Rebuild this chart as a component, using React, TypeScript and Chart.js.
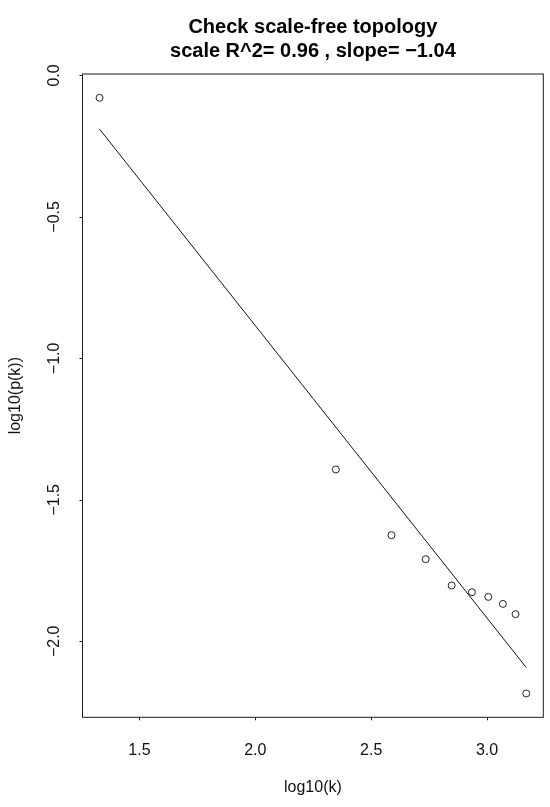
import React, { useEffect, useRef } from "react";
import { Chart, registerables } from "chart.js";

Chart.register(...registerables);

// Data
const logK = [1.3277, 2.3475, 2.5875, 2.7352, 2.8473, 2.9347, 3.0054, 3.0683, 3.123, 3.1691];
const logPk = [-0.0792, -1.3927, -1.625, -1.7098, -1.8028, -1.8265, -1.8431, -1.8678, -1.9042, -2.1845];
// fitted regression line endpoints
const fitX = [1.3277, 3.1691];
const fitY = [-0.1898, -2.0926];

const xTickValues = [1.5, 2.0, 2.5, 3.0];
const xTickLabels = ["1.5", "2.0", "2.5", "3.0"];
const yTickValues = [0, -0.5, -1.0, -1.5, -2.0];
const yTickLabels = ["0.0", "\u22120.5", "\u22121.0", "\u22121.5", "\u22122.0"];

const titleLines = ["Check scale-free topology", "scale R^2= 0.96 , slope= \u22121.04"];
const xTitle = "log10(k)";
const yTitle = "log10(p(k))";

const FONT = '"Liberation Sans", Arial, Helvetica, sans-serif';

const rAxesPlugin = {
  id: "rAxes",
  afterDraw(chart: any) {
    const { ctx, chartArea, scales } = chart;
    const xs = scales.x;
    const ys = scales.y;
    const { left, right, top, bottom } = chartArea;
    ctx.save();
    ctx.strokeStyle = "#1a1a1a";
    ctx.fillStyle = "#111";
    ctx.lineWidth = 1;
    // box
    ctx.strokeRect(left, top, right - left, bottom - top);
    // x ticks
    ctx.beginPath();
    xTickValues.forEach((v) => {
      const px = Math.round(xs.getPixelForValue(v)) + 0.5;
      ctx.moveTo(px, bottom);
      ctx.lineTo(px, bottom + 3);
    });
    yTickValues.forEach((v) => {
      const py = Math.round(ys.getPixelForValue(v)) + 0.5;
      ctx.moveTo(left, py);
      ctx.lineTo(left - 3, py);
    });
    ctx.stroke();
    // x tick labels
    ctx.font = `16px ${FONT}`;
    ctx.textAlign = "center";
    ctx.textBaseline = "alphabetic";
    xTickValues.forEach((v, i) => {
      ctx.fillText(xTickLabels[i], xs.getPixelForValue(v), 754.5);
    });
    // y tick labels (rotated)
    yTickValues.forEach((v, i) => {
      ctx.save();
      ctx.translate(58.5, ys.getPixelForValue(v));
      ctx.rotate(-Math.PI / 2);
      ctx.fillText(yTickLabels[i], 0, 0);
      ctx.restore();
    });
    const cx = (left + right) / 2;
    const cy = (top + bottom) / 2;
    // axis titles
    ctx.fillText(xTitle, cx, 792);
    ctx.save();
    ctx.translate(19.5, cy);
    ctx.rotate(-Math.PI / 2);
    ctx.fillText(yTitle, 0, 0);
    ctx.restore();
    // main title
    ctx.font = `bold 20px ${FONT}`;
    ctx.fillStyle = "#000";
    ctx.fillText(titleLines[0], cx, 33);
    ctx.fillText(titleLines[1], cx, 57);
    ctx.restore();
  },
};

export default function App() {
  const ref = useRef<HTMLCanvasElement | null>(null);
  useEffect(() => {
    if (!ref.current) return;
    const xPad = 0.04 * (Math.max(...logK) - Math.min(...logK));
    const yPad = 0.04 * (Math.max(...logPk) - Math.min(...logPk));
    const chart = new Chart(ref.current, {
      type: "scatter",
      data: {
        datasets: [
          {
            type: "scatter",
            data: logK.map((x, i) => ({ x, y: logPk[i] })),
            pointStyle: "circle",
            pointRadius: 3.5,
            pointBorderWidth: 1,
            pointBorderColor: "#222",
            pointBackgroundColor: "rgba(0,0,0,0)",
            showLine: false,
          } as any,
          {
            type: "line",
            data: fitX.map((x, i) => ({ x, y: fitY[i] })),
            borderColor: "#111",
            borderWidth: 1,
            pointRadius: 0,
            showLine: true,
            fill: false,
          } as any,
        ],
      },
      options: {
        animation: false,
        responsive: false,
        devicePixelRatio: 1,
        layout: { padding: { left: 82.5, right: 6.7, top: 74, bottom: 89.7 } },
        scales: {
          x: {
            type: "linear",
            display: false,
            min: Math.min(...logK) - xPad,
            max: Math.max(...logK) + xPad,
          },
          y: {
            type: "linear",
            display: false,
            min: Math.min(...logPk) - yPad,
            max: Math.max(...logPk) + yPad,
          },
        },
        plugins: {
          legend: { display: false },
          tooltip: { enabled: false },
          title: { display: false },
        },
      },
      plugins: [rAxesPlugin],
    });
    return () => chart.destroy();
  }, []);
  return (
    <div style={{ position: "fixed", left: 0, top: 0, width: 550, height: 807, background: "#fff" }}>
      <canvas ref={ref} width={550} height={807} style={{ width: 550, height: 807, display: "block" }} />
    </div>
  );
}
